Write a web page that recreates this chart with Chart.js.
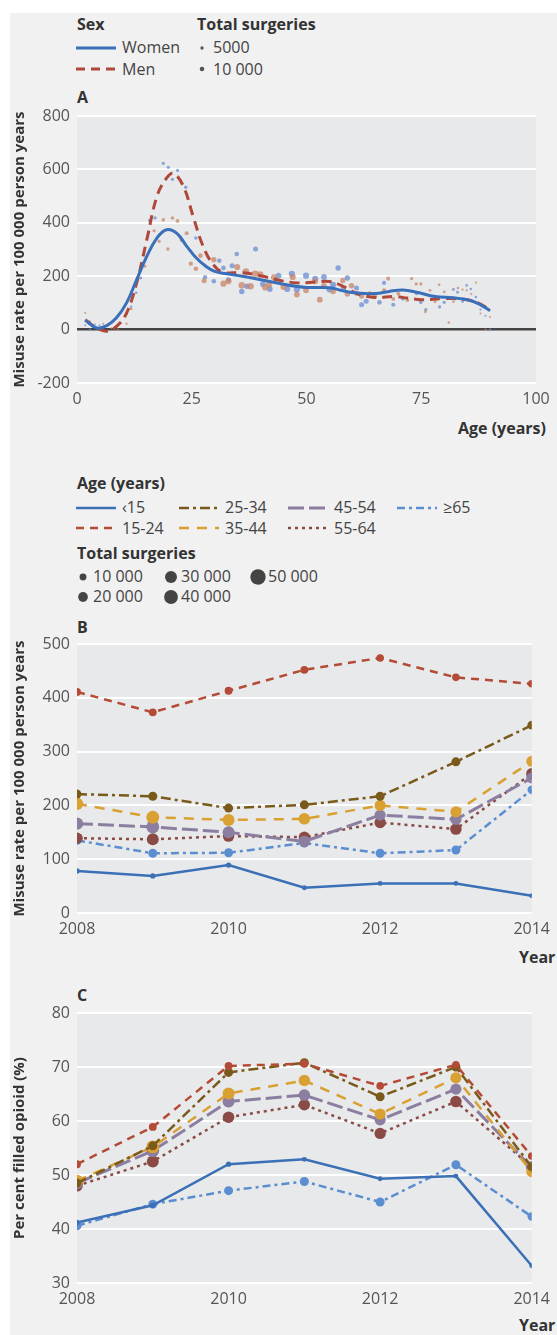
<!DOCTYPE html>
<html>
<head>
<meta charset="utf-8">
<script src="https://cdn.jsdelivr.net/npm/chart.js@4.4.1/dist/chart.umd.min.js"></script>
<style>
html,body{margin:0;padding:0;background:#ffffff;width:557px;height:1335px;overflow:hidden;}
#fig{position:absolute;left:10px;top:13px;width:547px;height:1322px;background:#f1f1f1;}
.t{position:absolute;font-family:'Open Sans',sans-serif;font-size:16px;line-height:20px;color:#444;white-space:nowrap;}
.b{font-weight:bold;color:#333;}
canvas{position:absolute;left:0;}
svg{position:absolute;overflow:visible;}
</style>
</head>
<body>
<div id="fig"></div>
<div id="labels"></div>
<canvas id="chartA" width="557" height="323" style="top:90px"></canvas>
<canvas id="chartB" width="557" height="328" style="top:615px"></canvas>
<canvas id="chartC" width="557" height="328" style="top:985px"></canvas>
<script>
// ================= Panel A data (age in years, misuse rate per 100 000 person years) =================
const womenPtAge  = [1.8,2.8,3.9,4.9,5.6,8.9,10.8,11.8,12.9,13.9,15.8,17,18.8,19.9,20.8,21.9,23.7,25.9,27.9,29.8,31,31.9,33,33.8,34.8,35.9,37,38.9,40.5,42,43.9,45.8,46.8,47.9,49.9,51.9,53.8,55,55.8,56.9,58,58.9,60.9,62,63,65.9,66.9,68.9,71,74,74.9,76,79,80,82,82.9,84,84.9,85.8,86.9,87.9,89,90];
const womenPtRate = [16,0,19,16,0,19,59,86,138,193,409,418,623,608,563,596,533,343,196,181,258,231,187,239,283,143,162,302,170,152,202,152,209,150,202,190,197,150,168,231,152,193,156,93,106,102,175,93,116,135,102,75,85,102,150,140,105,166,152,122,75,52,0];
const womenPtSurg = [2000,2000,2000,2000,2000,2500,3000,3000,3500,4000,5000,5000,5000,5000,5000,5000,6000,6000,9000,10000,10000,10000,12000,12000,10000,14000,14000,12000,15000,16000,16000,18000,18000,18000,18000,18000,16000,16000,16000,14000,14000,14000,12000,12000,12000,10000,8000,8000,7000,6000,6000,5000,5000,5000,4000,4000,3500,3500,3000,3000,2500,2000,2000];

const menPtAge  = [1.8,2.8,5.7,7.5,8.9,10.8,11.8,13.9,14.8,16.8,17.9,18.8,19.8,20.8,21.9,22.8,23.9,24.8,25.9,26.9,27.7,29.8,31.9,33,34.9,35.9,36.8,37.8,38.8,39.9,41,41.8,42.9,45,47,47.9,49.9,51.9,52.9,53.8,55.8,57.9,58.9,59.8,61,62,63.8,64.9,66.9,67.8,68.9,70,72,72.9,73.9,74.9,75.9,76.9,78,78.9,80,81,82,83,84,84.9,85.9,86.9,87.9,89,90];
const menPtRate = [62,31,22,5,0,22,77,237,237,370,330,411,302,418,407,336,361,247,228,277,183,262,172,181,234,166,218,162,209,206,158,168,196,160,197,131,147,181,112,164,143,184,133,164,135,125,135,125,147,191,115,135,110,191,171,171,67,147,104,168,141,27,104,156,150,147,133,176,60,0,47];
const menPtSurg = [2000,2000,2000,2000,2000,2500,3000,4000,4000,5000,5000,6000,6000,6000,7000,8000,8000,9000,10000,10000,12000,14000,18000,18000,18000,20000,20000,20000,20000,20000,18000,18000,18000,18000,18000,16000,16000,16000,16000,16000,14000,14000,14000,14000,12000,12000,10000,10000,8000,8000,7000,7000,6000,5000,5000,5000,4000,4000,4000,3500,3500,3000,3000,3000,2500,2500,2500,2000,2000,2000,2000];

const womenCurveAge  = [1.8,4.3,6.5,8.6,10.8,13,15.2,17.4,19.5,21.7,24,26,28,30,32.6,36,40,45,50,55,58,61,65,68,71,74,78,82,85.5,88,90];
const womenCurveRate = [35,6,15,44,100,187,274,343,374,361,310,268,238,218,209,200,187,170,158,157,145,137,135,143,148,140,124,119,110,92,71];
const menCurveAge  = [1.8,4.3,6.5,8.6,10.8,13,15.2,17.4,19.5,21,23.2,25.3,27.5,29.7,31.9,35.5,40,44,48,52,55,58,61,65,69,72,75,80,85,88,90];
const menCurveRate = [37,6,-6,12,62,175,336,498,567,585,536,424,311,243,214,214,202,185,175,178,180,162,135,120,124,118,112,116,112,95,71];

const ageTicks   = [0,25,50,75,100];
const rateTicksA = [-200,0,200,400,600,800];

// ================= Panels B and C data =================
const years = [2008,2009,2010,2011,2012,2013,2014];
const yearTicks = [2008,2010,2012,2014];
const ageGroups = ['‹15','15-24','25-34','35-44','45-54','55-64','≥65'];

const misuseLt15 = [78,69,89,47,55,55,32];
const misuse1524 = [411,373,413,452,474,438,426];
const misuse2534 = [221,217,195,201,217,281,349];
const misuse3544 = [203,178,173,175,200,188,282];
const misuse4554 = [166,160,150,133,182,174,251];
const misuse5564 = [139,137,143,141,168,156,259];
const misuse65   = [135,111,112,130,111,117,229];
const rateTicksB = [0,100,200,300,400,500];

const filledLt15 = [41.2,44.4,52.0,52.9,49.3,49.8,33.2];
const filled1524 = [52.0,58.9,70.2,70.6,66.5,70.4,53.5];
const filled2534 = [48.5,55.4,69.0,70.8,64.5,70.0,51.5];
const filled3544 = [48.9,55.2,65.1,67.5,61.3,68.0,50.6];
const filled4554 = [48.5,54.5,63.6,64.8,60.2,65.9,51.4];
const filled5564 = [48.0,52.5,60.7,63.0,57.7,63.6,51.5];
const filled65   = [40.6,44.6,47.1,48.8,45.0,51.9,42.3];
const pctTicksC  = [30,40,50,60,70,80];

const surgLt15 = [6000,6000,6000,5000,5000,5000,5000];
const surg1524 = [13000,13000,13000,13000,12000,12000,12000];
const surg2534 = [17000,17000,17000,17000,17000,17000,16000];
const surg3544 = [32000,35000,30000,28000,26000,26000,25000];
const surg4554 = [32000,35000,30000,28000,26000,26000,25000];
const surg5564 = [28000,30000,28000,27000,27000,28000,26000];
const surg65   = [17000,17000,17000,17000,17000,17000,15000];

const legendSurgA = [5000,10000];
const legendSurgB = [10000,20000,30000,40000,50000];

// ================= styles =================
const FONT = "'Open Sans', sans-serif";
const TICK_COLOR = '#555';
const PLOT_BG = '#e8e9eb';
const rA = n => 2.3*Math.sqrt(n/10000);
const rB = n => 3.45*Math.sqrt(n/10000);

const groupStyles = [
  {color:'#3b6fb6', dash:[], width:2.5},
  {color:'#b44b36', dash:[8,6], width:2.5},
  {color:'#7a5a1b', dash:[10,4,3,4], width:2.5},
  {color:'#d9a032', dash:[10,8], width:2.5},
  {color:'#8b7ea0', dash:[16,5], width:3},
  {color:'#8a4b46', dash:[3,4], width:2.5},
  {color:'#5b8ed0', dash:[8,4,3,4], width:2.5}
];

const bgPlugin = {
  id:'plotbg',
  beforeDraw(c){
    const a=c.chartArea, x=c.ctx;
    x.save(); x.fillStyle=PLOT_BG; x.fillRect(a.left,a.top,a.right-a.left,a.bottom-a.top); x.restore();
  }
};

function makeOptions(xmin,xmax,xticks,ymin,ymax,yticks,padTop,yTitle,zeroLine){
  return {
    responsive:false, animation:false, events:[],
    layout:{padding:{top:padTop,right:21,bottom:0,left:0}},
    plugins:{legend:{display:false},tooltip:{enabled:false}},
    scales:{
      x:{type:'linear',min:xmin,max:xmax,
        afterBuildTicks:s=>{s.ticks=xticks.map(v=>({value:v}));},
        afterFit:s=>{s.height=30;},
        grid:{display:false,drawTicks:false},border:{display:false},
        ticks:{padding:7,color:TICK_COLOR,font:{family:FONT,size:16},callback:v=>String(v),maxRotation:0,autoSkip:false}},
      y:{type:'linear',min:ymin,max:ymax,
        afterBuildTicks:s=>{s.ticks=yticks.map(v=>({value:v}));},
        afterFit:s=>{s.width=77;},
        grid:{drawTicks:false,
          color:c=>(zeroLine && c.tick && c.tick.value===0)?'#444':'#ffffff',
          lineWidth:c=>(zeroLine && c.tick && c.tick.value===0)?2.5:2},
        border:{display:false},
        title:{display:true,text:yTitle,color:'#333',font:{family:FONT,size:15,weight:'bold'},padding:{top:11,bottom:0}},
        ticks:{padding:7,color:TICK_COLOR,font:{family:FONT,size:16},callback:v=>String(v)}}
    }
  };
}

// ---------- Chart A ----------
const pts = (xs,ys)=>xs.map((v,i)=>({x:v,y:ys[i]}));
new Chart(document.getElementById('chartA'),{
  type:'scatter',
  data:{datasets:[
    {label:'Women curve',data:pts(womenCurveAge,womenCurveRate),showLine:true,tension:0.4,pointRadius:0,borderColor:'#3a70b9',borderWidth:3,order:0},
    {label:'Men curve',data:pts(menCurveAge,menCurveRate),showLine:true,tension:0.4,pointRadius:0,borderColor:'#b0483a',borderWidth:3,borderDash:[10,6],order:1},
    {label:'Women',data:pts(womenPtAge,womenPtRate),pointRadius:womenPtSurg.map(rA),pointBackgroundColor:'rgba(112,146,212,0.8)',pointBorderWidth:0,order:3},
    {label:'Men',data:pts(menPtAge,menPtRate),pointRadius:menPtSurg.map(rA),pointBackgroundColor:'rgba(200,132,102,0.75)',pointBorderWidth:0,order:2}
  ]},
  options:makeOptions(0,100,ageTicks,-200,800,rateTicksA,26,'Misuse rate per 100 000 person years',true),
  plugins:[bgPlugin]
});

// ---------- Charts B and C ----------
function groupDatasets(series,surgs){
  return series.map((vals,g)=>({
    label:ageGroups[g],
    data:pts(years,vals),
    borderColor:groupStyles[g].color,borderWidth:groupStyles[g].width,borderDash:groupStyles[g].dash,
    pointRadius:surgs[g].map(rB),pointBackgroundColor:groupStyles[g].color,pointBorderWidth:0,
    showLine:true,tension:0
  }));
}
const surgAll = [surgLt15,surg1524,surg2534,surg3544,surg4554,surg5564,surg65];
new Chart(document.getElementById('chartB'),{
  type:'scatter',
  data:{datasets:groupDatasets([misuseLt15,misuse1524,misuse2534,misuse3544,misuse4554,misuse5564,misuse65],surgAll)},
  options:makeOptions(2008,2014,yearTicks,0,500,rateTicksB,29,'Misuse rate per 100 000 person years',false),
  plugins:[bgPlugin]
});
new Chart(document.getElementById('chartC'),{
  type:'scatter',
  data:{datasets:groupDatasets([filledLt15,filled1524,filled2534,filled3544,filled4554,filled5564,filled65],surgAll)},
  options:makeOptions(2008,2014,yearTicks,30,80,pctTicksC,28,'Per cent filled opioid (%)',false),
  plugins:[bgPlugin]
});

// ================= HTML text: legends, panel letters, x titles =================
const L = document.getElementById('labels');
function txt(s,left,top,bold,extra){
  const d=document.createElement('div'); d.className='t'+(bold?' b':''); d.textContent=s;
  d.style.left=left+'px'; d.style.top=top+'px'; if(extra) Object.assign(d.style,extra); L.appendChild(d); return d;
}
function lineSample(x1,x2,y,color,dash,w){
  const s=document.createElementNS('http://www.w3.org/2000/svg','svg');
  s.setAttribute('width',x2-x1); s.setAttribute('height',8);
  s.style.left=x1+'px'; s.style.top=(y-4)+'px';
  const l=document.createElementNS('http://www.w3.org/2000/svg','line');
  l.setAttribute('x1',0); l.setAttribute('x2',x2-x1); l.setAttribute('y1',4); l.setAttribute('y2',4);
  l.setAttribute('stroke',color); l.setAttribute('stroke-width',w);
  if(dash.length) l.setAttribute('stroke-dasharray',dash.join(','));
  s.appendChild(l); L.appendChild(s);
}
function dot(cx,cy,r,color){
  const s=document.createElementNS('http://www.w3.org/2000/svg','svg');
  s.setAttribute('width',20); s.setAttribute('height',20);
  s.style.left=(cx-10)+'px'; s.style.top=(cy-10)+'px';
  const c=document.createElementNS('http://www.w3.org/2000/svg','circle');
  c.setAttribute('cx',10); c.setAttribute('cy',10); c.setAttribute('r',r); c.setAttribute('fill',color);
  s.appendChild(c); L.appendChild(s);
}
const fmt = n => n>=10000 ? String(n).replace(/(\d)(?=(\d{3})+$)/g,'$1 ') : String(n);

// Legend of panel A
txt('Sex',77,13.5,true);
lineSample(76,116,47.5,'#3a70b9',[],3); txt('Women',122,37);
lineSample(76,116,69,'#b0483a',[9,6],3); txt('Men',122,58.5);
txt('Total surgeries',197,13.5,true);
legendSurgA.forEach((n,i)=>{ const cy=[47.5,69][i]; dot(202,cy,rA(n),'#555'); txt(fmt(n),213,cy-10.5); });

// Panel letters
txt('A',77,87,true);
txt('B',77,616.5,true);
txt('C',77,984.5,true);

// X axis titles
txt('Age (years)',458,417.5,true);
txt('Year',519,946.5,true);
txt('Year',519,1314.5,true);

// Legend of panels B/C
txt('Age (years)',77,472.5,true);
const legPos = [[76,507.7],[76,528],[179,507.7],[179,528],[288,507.7],[288,528],[397,507.7]];
ageGroups.forEach((g,i)=>{
  const [x,y]=legPos[i], st=groupStyles[i];
  lineSample(x,x+40,y,st.color,st.dash,st.width);
  txt(g,x+46,y-10.5);
});
txt('Total surgeries',77,542.5,true);
const dotPos = [[83,576.7],[83,596.7],[171,576.7],[171,596.7],[258,576.7]];
legendSurgB.forEach((n,i)=>{
  const [x,y]=dotPos[i]; dot(x,y,rB(n),'#444'); txt(fmt(n),x+10,y-10.5);
});
</script>
</body>
</html>
